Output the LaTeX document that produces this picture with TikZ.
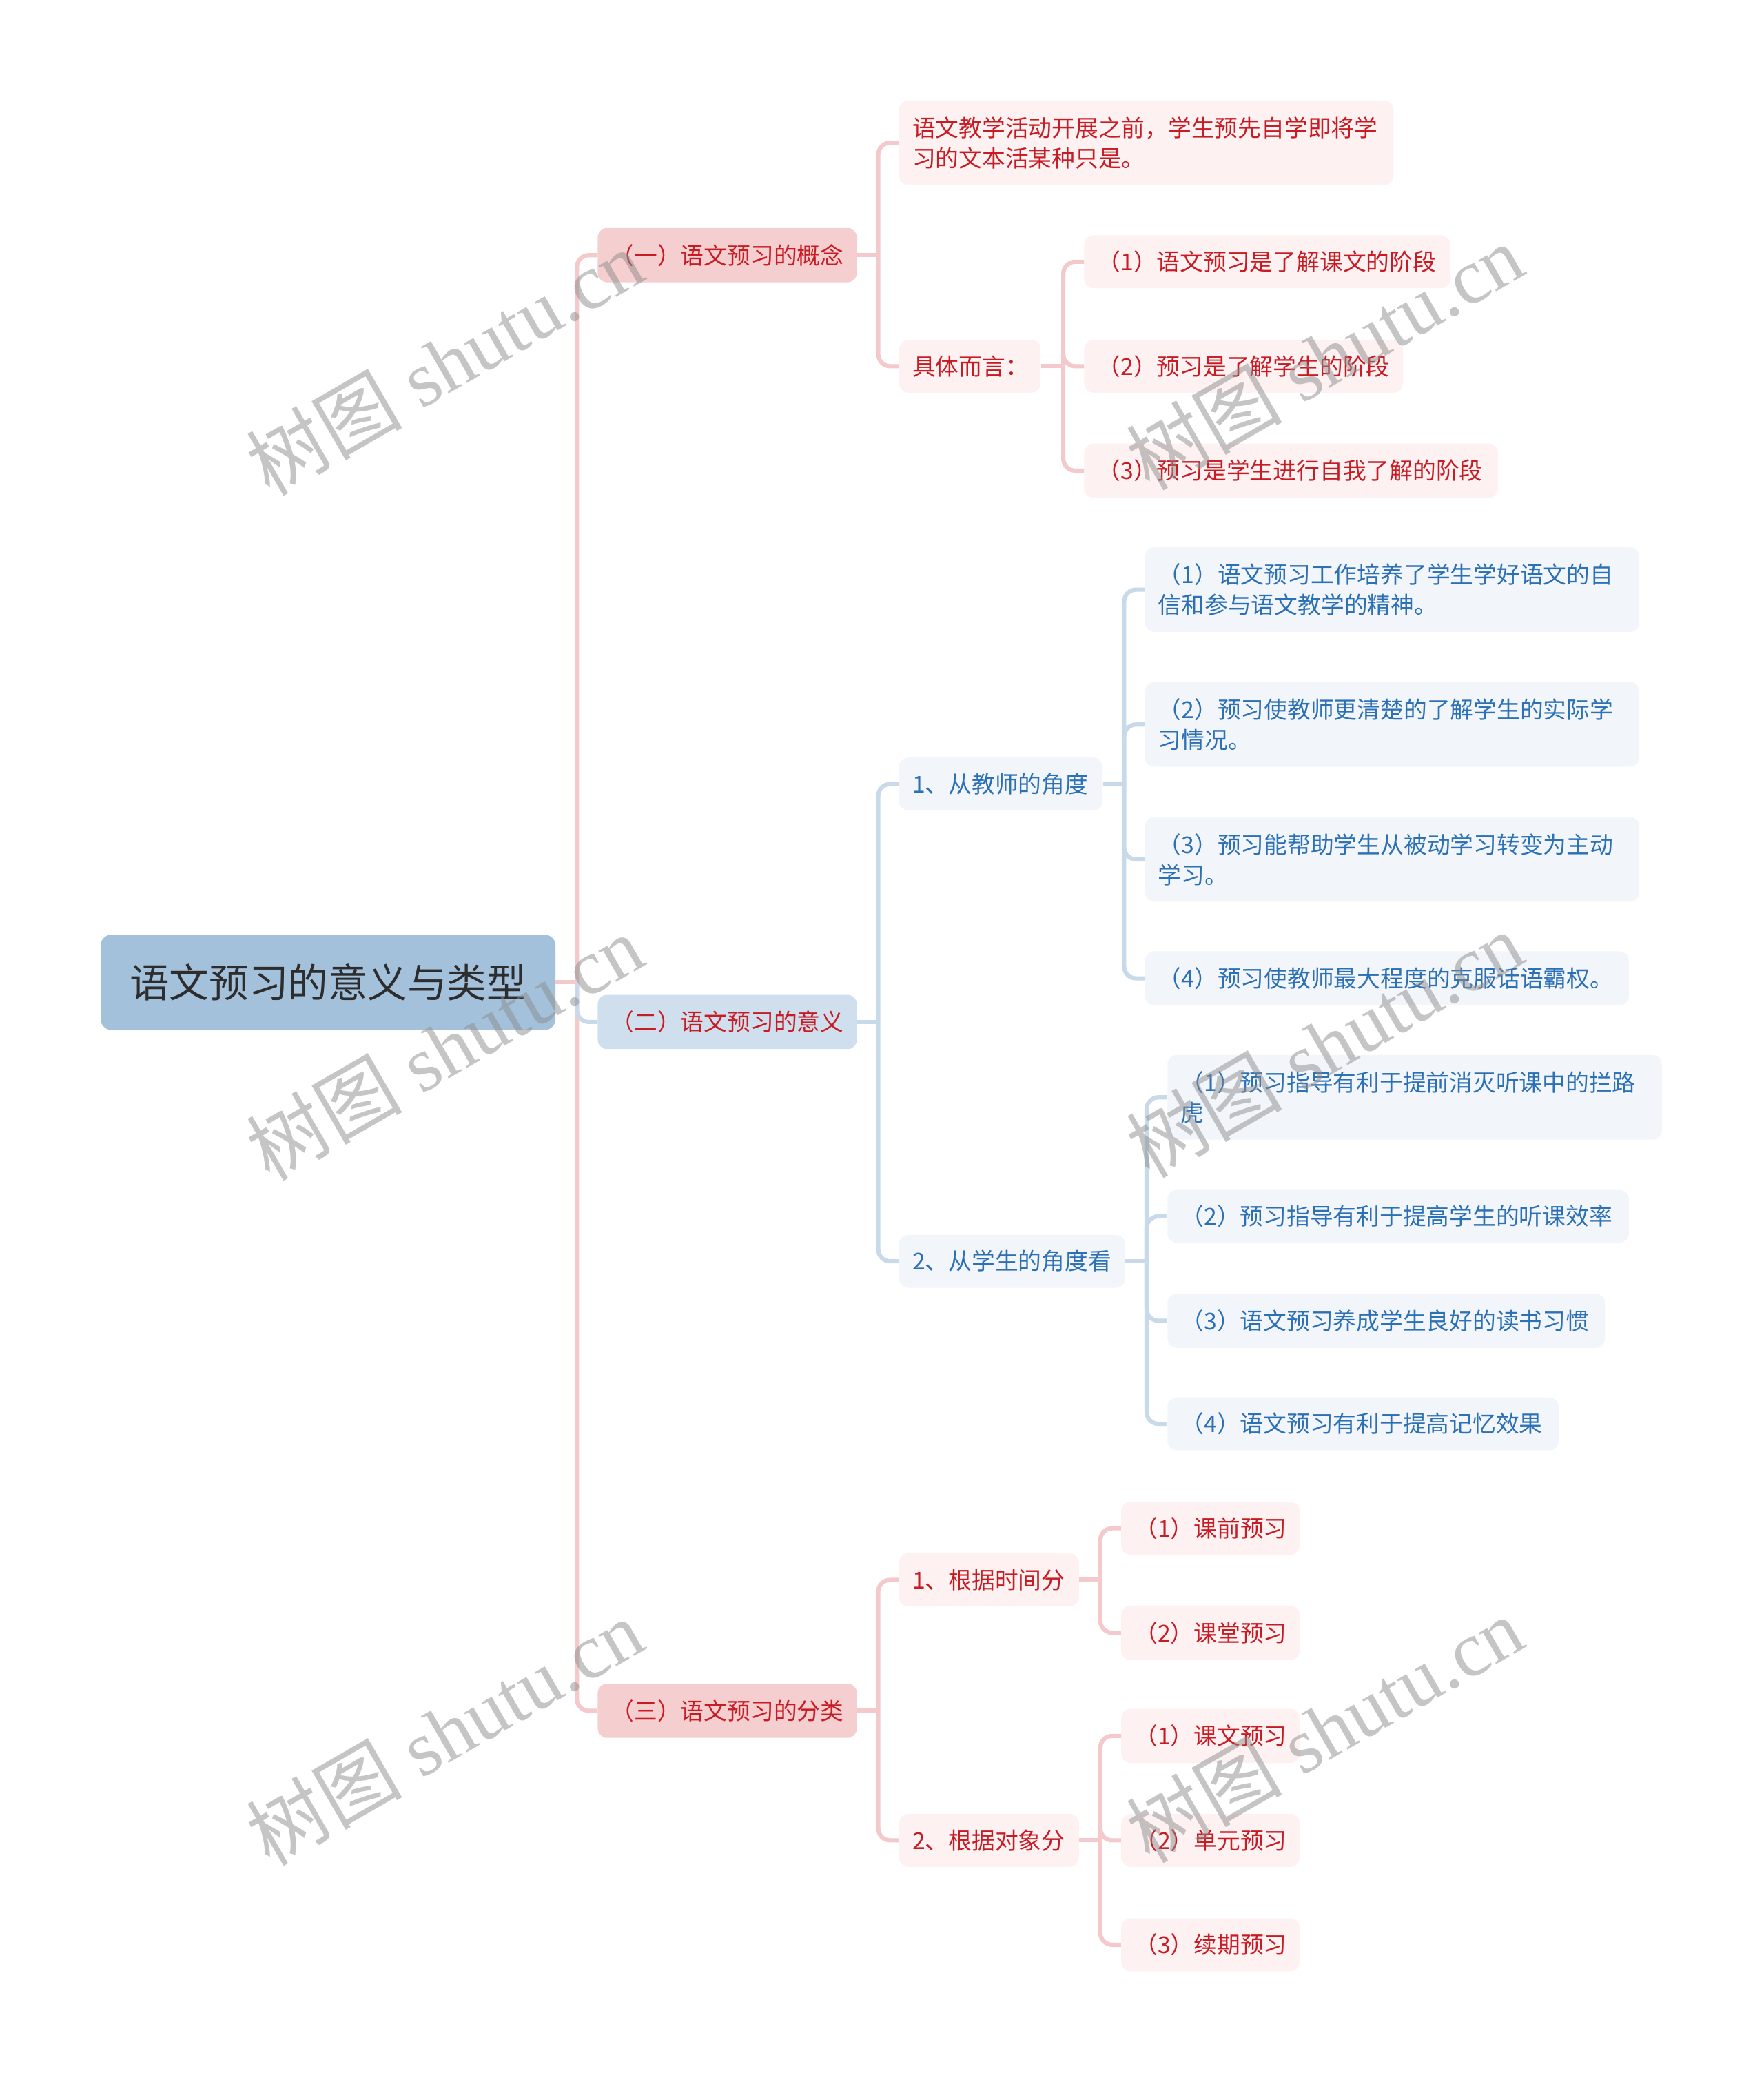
\documentclass[tikz,border=0pt]{standalone}
\usepackage{fontspec}
\newfontfamily\cjk{Noto Sans CJK SC}
\newfontfamily\wmserif{Liberation Serif}
\definecolor{rootfill}{RGB}{164,193,220}
\definecolor{pkfill}{RGB}{245,206,208}
\definecolor{blfill}{RGB}{207,223,238}
\definecolor{pkleaf}{RGB}{253,241,242}
\definecolor{blleaf}{RGB}{242,246,251}
\definecolor{redtxt}{RGB}{200,28,36}
\definecolor{bluetxt}{RGB}{44,112,182}
\definecolor{pkline}{RGB}{243,201,203}
\definecolor{blline}{RGB}{200,217,234}
\definecolor{roottxt}{RGB}{45,45,45}
\tikzset{
  box/.style={rounded corners=7pt, inner xsep=10pt, inner ysep=0pt, anchor=west, align=left,
    font=\cjk\fontsize{17.6}{23}\selectfont},
  sz/.style 2 args={text width=#1, minimum height=#2},
  pkbox/.style={box, fill=pkleaf, text=redtxt},
  blbox/.style={box, fill=blleaf, text=bluetxt},
  pkmain/.style={box, fill=pkfill, text=redtxt},
  blmain/.style={box, fill=blfill, text=redtxt},
  rootbox/.style={rounded corners=8pt, anchor=west, align=center, fill=rootfill, text=roottxt,
    inner xsep=20pt, inner ysep=0pt, font=\cjk\fontsize{30}{36}\selectfont},
  conn/.style={line width=3.2pt, rounded corners=9pt},
  pkl/.style={conn, draw=pkline},
  bll/.style={conn, draw=blline},
  wm/.style={rotate=30, text=black!45, text opacity=0.5, inner sep=0pt,
    font=\wmserif\fontsize{59}{59}\selectfont}
}
\begin{document}
\begin{tikzpicture}[x=1pt, y=-1pt]
\useasboundingbox[fill=white] (0,0) rectangle (1334,1568);

% root
\node[rootbox, sz={304pt}{72pt}] (root) at (76,743) {语文预习的意义与类型};

% level 1
\node[pkmain, sz={176pt}{41pt}] (L1a) at (452,193) {（一）语文预习的概念};
\node[blmain, sz={176pt}{41pt}] (L1b) at (452,773) {（二）语文预习的意义};
\node[pkmain, sz={176pt}{41pt}] (L1c) at (452,1294) {（三）语文预习的分类};

% branch 1
\node[pkbox, sz={354pt}{64pt}] (A1) at (680,108) {语文教学活动开展之前，学生预先自学即将学\\习的文本活某种只是。};
\node[pkbox, sz={87pt}{40pt}] (A2) at (680,277) {具体而言：};
\node[pkbox, sz={257pt}{40pt}] (A21) at (820,198) {（1）语文预习是了解课文的阶段};
\node[pkbox, sz={221pt}{40pt}] (A22) at (820,277) {（2）预习是了解学生的阶段};
\node[pkbox, sz={293pt}{41pt}] (A23) at (820,356) {（3）预习是学生进行自我了解的阶段};

% branch 2
\node[blbox, sz={134pt}{40pt}] (B1) at (680,593) {1、从教师的角度};
\node[blbox, sz={151pt}{40pt}] (B2) at (680,954) {2、从学生的角度看};
\node[blbox, sz={354pt}{64pt}] (B11) at (866,446) {（1）语文预习工作培养了学生学好语文的自\\信和参与语文教学的精神。};
\node[blbox, sz={354pt}{64pt}] (B12) at (866,548) {（2）预习使教师更清楚的了解学生的实际学\\习情况。};
\node[blbox, sz={354pt}{64pt}] (B13) at (866,650) {（3）预习能帮助学生从被动学习转变为主动\\学习。};
\node[blbox, sz={346pt}{41pt}] (B14) at (866,740) {（4）预习使教师最大程度的克服话语霸权。};
\node[blbox, sz={354pt}{64pt}] (B21) at (883,830) {（1）预习指导有利于提前消灭听课中的拦路\\虎};
\node[blbox, sz={329pt}{40pt}] (B22) at (883,920) {（2）预习指导有利于提高学生的听课效率};
\node[blbox, sz={311pt}{41pt}] (B23) at (883,999) {（3）语文预习养成学生良好的读书习惯};
\node[blbox, sz={276pt}{40pt}] (B24) at (883,1077) {（4）语文预习有利于提高记忆效果};

% branch 3
\node[pkbox, sz={116pt}{40pt}] (C1) at (680,1195) {1、根据时间分};
\node[pkbox, sz={116pt}{40pt}] (C2) at (680,1392) {2、根据对象分};
\node[pkbox, sz={115pt}{40pt}] (C11) at (848,1156) {（1）课前预习};
\node[pkbox, sz={115pt}{41pt}] (C12) at (848,1235) {（2）课堂预习};
\node[pkbox, sz={115pt}{41pt}] (C21) at (848,1313) {（1）课文预习};
\node[pkbox, sz={115pt}{40pt}] (C22) at (848,1392) {（2）单元预习};
\node[pkbox, sz={115pt}{40pt}] (C23) at (848,1471) {（3）续期预习};

% connectors: root
\draw[pkl] (root.east) -- ++(16,0) coordinate (j0);
\draw[pkl] (j0) |- (L1a.west);
\draw[pkl] (j0) |- (L1c.west);
\draw[bll] (j0) |- (L1b.west);

% connectors: branch 1
\draw[pkl] (L1a.east) -- ++(16,0) coordinate (ja);
\draw[pkl] (ja) |- (A1.west);
\draw[pkl] (ja) |- (A2.west);
\draw[pkl] (A2.east) -- ++(17,0) coordinate (ja2);
\draw[pkl] (ja2) |- (A21.west);
\draw[pkl] (ja2) |- (A22.west);
\draw[pkl] (ja2) |- (A23.west);

% connectors: branch 2
\draw[bll] (L1b.east) -- ++(16,0) coordinate (jb);
\draw[bll] (jb) |- (B1.west);
\draw[bll] (jb) |- (B2.west);
\draw[bll] (B1.east) -- ++(16,0) coordinate (jb1);
\draw[bll] (jb1) |- (B11.west);
\draw[bll] (jb1) |- (B12.west);
\draw[bll] (jb1) |- (B13.west);
\draw[bll] (jb1) |- (B14.west);
\draw[bll] (B2.east) -- ++(16,0) coordinate (jb2);
\draw[bll] (jb2) |- (B21.west);
\draw[bll] (jb2) |- (B22.west);
\draw[bll] (jb2) |- (B23.west);
\draw[bll] (jb2) |- (B24.west);

% connectors: branch 3
\draw[pkl] (L1c.east) -- ++(16,0) coordinate (jc);
\draw[pkl] (jc) |- (C1.west);
\draw[pkl] (jc) |- (C2.west);
\draw[pkl] (C1.east) -- ++(16,0) coordinate (jc1);
\draw[pkl] (jc1) |- (C11.west);
\draw[pkl] (jc1) |- (C12.west);
\draw[pkl] (C2.east) -- ++(16,0) coordinate (jc2);
\draw[pkl] (jc2) |- (C21.west);
\draw[pkl] (jc2) |- (C22.west);
\draw[pkl] (jc2) |- (C23.west);

% watermarks
\node[wm] (wm1) at (336,274) {{\cjk 树图} shutu.cn};
\node[wm] (wm2) at (336,792) {{\cjk 树图} shutu.cn};
\node[wm] (wm3) at (336,1310) {{\cjk 树图} shutu.cn};
\node[wm] (wm4) at (1002,270) {{\cjk 树图} shutu.cn};
\node[wm] (wm5) at (1002,790) {{\cjk 树图} shutu.cn};
\node[wm] (wm6) at (1002,1308) {{\cjk 树图} shutu.cn};
\end{tikzpicture}
\end{document}
